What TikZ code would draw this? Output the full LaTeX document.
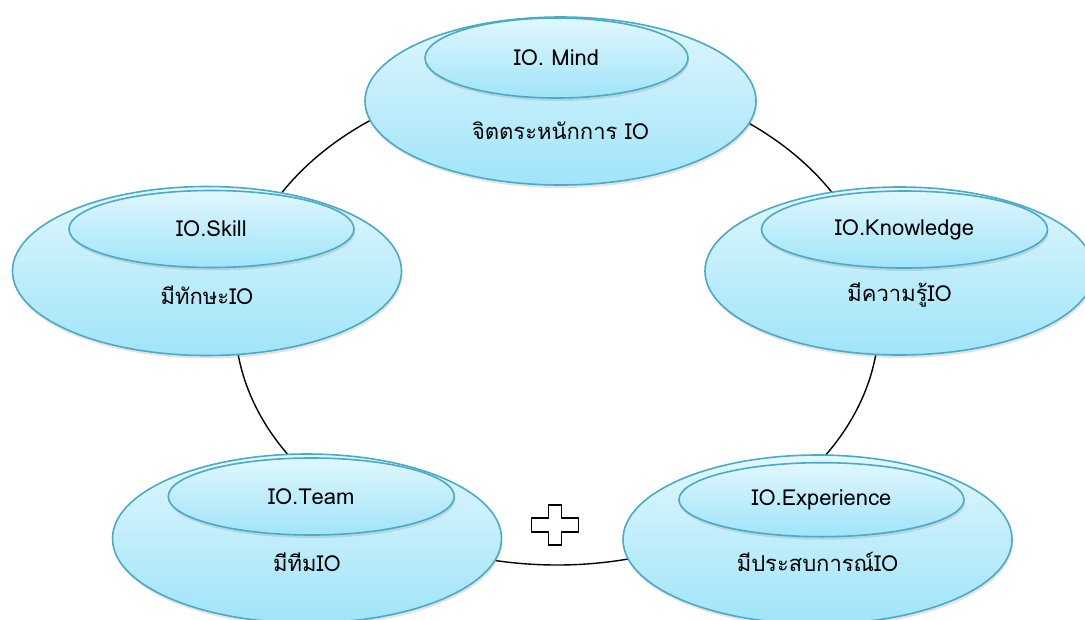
\documentclass[tikz,border=0pt]{standalone}
\usepackage{fontspec}
\setmainfont[Script=Thai]{Loma}
\usetikzlibrary{shapes.geometric,shadows}

\definecolor{iocolor0000}{RGB}{75,170,198}
\definecolor{iocolor0001}{RGB}{224,247,253}
\definecolor{iocolor0002}{RGB}{160,228,249}

\begin{document}
\begin{tikzpicture}[
  yscale = -1,
  iostyle0/.style = {color=black,line width=1.4pt},
  iostyle1/.style = {ellipse,draw=iocolor0000,line width=1.6pt,top color=iocolor0001,bottom color=iocolor0002,inner sep=0pt,font=\fontsize{22}{26}\selectfont,drop shadow={opacity=0.22,shadow xshift=1pt,shadow yshift=-3pt}},
  iostyle2/.style = {font=\fontsize{22}{26}\selectfont,color=black,inner sep=0pt},
  iostyle3/.style = {color=black,fill=white,line width=1.8pt},
]
  \useasboundingbox (0pt,0pt) rectangle (1085pt,619pt);
  \coordinate (ring) at (557pt,320pt);
  \draw[iostyle0] (ring) ellipse (322pt and 245pt);
  % mind
  \node[iostyle1,minimum width=391pt,minimum height=168pt] (mindOuter) at (560.5pt,101pt) {};
  \node[iostyle1,minimum width=263pt,minimum height=80pt] (mindInner) at (556.5pt,58pt) {IO. Mind};
  \node[iostyle2] (mindText) at (560.5pt,131pt) {จิตตระหนักการ IO};
  % skill
  \node[iostyle1,minimum width=389pt,minimum height=169pt] (skillOuter) at (207pt,271pt) {};
  \node[iostyle1,minimum width=285pt,minimum height=77pt] (skillInner) at (211.5pt,229pt) {IO.Skill};
  \node[iostyle2] (skillText) at (207pt,295pt) {มีทักษะIO};
  % knowledge
  \node[iostyle1,minimum width=389pt,minimum height=168pt] (knowOuter) at (899.5pt,271pt) {};
  \node[iostyle1,minimum width=286pt,minimum height=77pt] (knowInner) at (904.5pt,229.5pt) {IO.Knowledge};
  \node[iostyle2] (knowText) at (899.5pt,295pt) {มีความรู้IO};
  % team
  \node[iostyle1,minimum width=389pt,minimum height=169pt] (teamOuter) at (307pt,538.5pt) {};
  \node[iostyle1,minimum width=286pt,minimum height=77pt] (teamInner) at (311.3pt,496.5pt) {IO.Team};
  \node[iostyle2] (teamText) at (307pt,562pt) {มีทีมIO};
  % experience
  \node[iostyle1,minimum width=389pt,minimum height=169pt] (expOuter) at (817.5pt,539.5pt) {};
  \node[iostyle1,minimum width=285pt,minimum height=74pt] (expInner) at (821.5pt,499.7pt) {IO.Experience};
  \node[iostyle2] (expText) at (817.5pt,562pt) {มีประสบการณ์IO};
  % plus
  \coordinate (plus) at (555pt,525pt);
  \draw[iostyle3] (plus) ++(-6.5pt,-20pt) -- ++(13pt,0pt) -- ++(0pt,13pt) -- ++(17pt,0pt) -- ++(0pt,14pt) -- ++(-17pt,0pt) -- ++(0pt,13pt) -- ++(-13pt,0pt) -- ++(0pt,-13pt) -- ++(-17pt,0pt) -- ++(0pt,-14pt) -- ++(17pt,0pt) -- cycle;
\end{tikzpicture}
\end{document}
